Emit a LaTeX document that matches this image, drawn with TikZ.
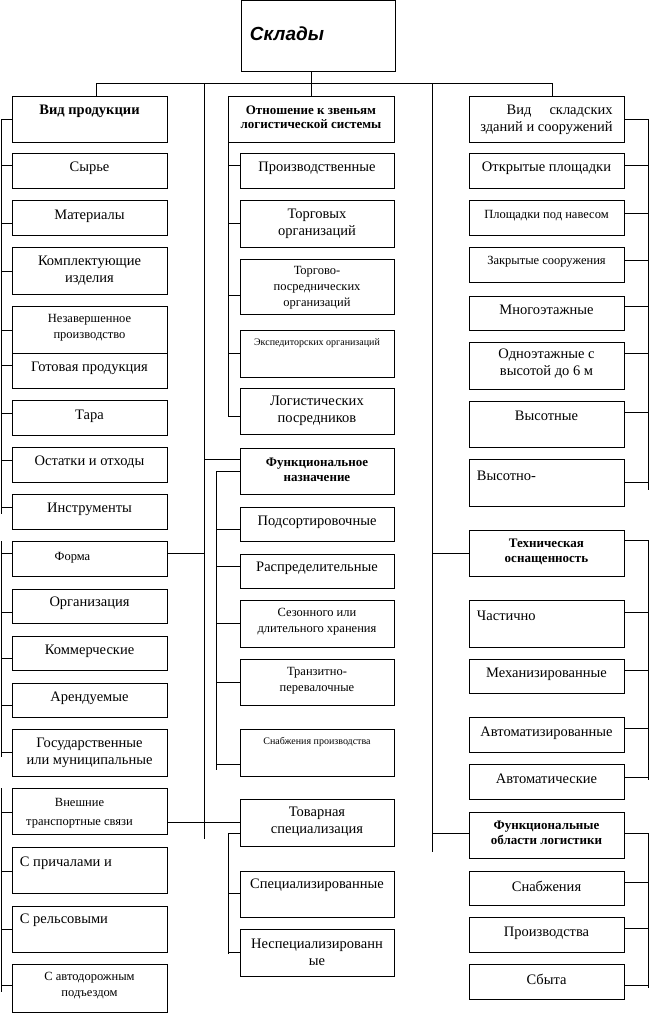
\documentclass[tikz,border=0pt]{standalone}
\usepackage{fontspec}
\setmainfont{Liberation Serif}
\setsansfont{Liberation Sans}

\begin{document}
\begin{tikzpicture}[x=1pt, y=-1pt, line width=0.9pt,
	box/.style = {draw, inner sep=0pt, outer sep=0pt},
	lbl/.style = {inner sep=0pt, align=center},
	nf/.style = {font=\fontsize{14.5}{17}\selectfont},
	sf/.style = {font=\fontsize{12.5}{16}\selectfont},
	tf/.style = {font=\fontsize{10}{12}\selectfont},
	hb/.style = {font=\bfseries\fontsize{13}{14.5}\selectfont},
	hl/.style = {font=\bfseries\fontsize{14.5}{16}\selectfont},
	hs/.style = {font=\bfseries\fontsize{13}{14}\selectfont},
	sk/.style = {font=\sffamily\bfseries\itshape\fontsize{19}{22}\selectfont, xshift=-31pt},
	lft/.style = {nf, anchor=west, xshift=-70pt},
	frmf/.style = {sf, xshift=-17pt},
	vnsf/.style = {font=\fontsize{12.5}{19}\selectfont, xshift=-10pt},
	vidf/.style = {nf, align=right, anchor=east, xshift=66.5pt}]
	\useasboundingbox (0,0) rectangle (649,1013);

	\foreach \nm/\xa/\xb/\ya/\yb/\ty/\f/\t in {
		skl/241/395/0.5/71/34/sk/Склады,
		vp/12/167/96/142/111/hl/Вид продукции,
		otn/228/394/96/142/117/hs/Отношение к звеньям\\логистической системы,
		vid/469/624/96/142/120/vidf/Вид\hspace{18pt}складских\\зданий и сооружений,
		fnz/240/394/448/494/470/hb/Функциональное\\назначение,
		teh/469/624/530/576/552/hb/Техническая\\оснащенность,
		tvs/240/394/799/846/822/nf/Товарная\\специализация,
		fol/469/624/812/858/833/hb/Функциональные\\области логистики} {
		\pgfmathsetmacro{\xc}{(\xa+\xb)/2}
		\pgfmathsetmacro{\yc}{(\ya+\yb)/2}
		\pgfmathsetmacro{\w}{\xb-\xa}
		\pgfmathsetmacro{\h}{\yb-\ya}
		\node[box, minimum width=\w pt, minimum height=\h pt] (\nm) at (\xc,\yc) {};
		\node[lbl, \f] (t\nm) at (\xc,\ty) {\t};
	}

	\coordinate (la) at (1,514);
	\coordinate (lb) at (1,757);
	\coordinate (lc) at (1,992);
	\coordinate (ma) at (228,416);
	\coordinate (mb) at (216,770);
	\coordinate (mc) at (228,954);
	\coordinate (ra) at (648,490);
	\coordinate (rb) at (648,780);
	\coordinate (rc) at (648,988);

	\def\xc{89.5} \def\w{155} \def\sd{west}
	\foreach \nm/\ya/\yb/\ty/\sy/\sp/\f/\t in {
		syr/153/188/168/165/la/nf/Сырье,
		mat/200/235/216/223/la/nf/Материалы,
		kom/247/294/271/271/la/nf/Комплектующие\\изделия,
		nez/306/353/328/330/la/sf/Незавершенное\\производство,
		got/353/388/368/365/la/nf/Готовая продукция,
		tar/400/435/416/413/la/nf/Тара,
		ost/447/482/462/460/la/nf/Остатки и отходы,
		ins/494/529/509/507/la/nf/Инструменты,
		frm/541/576/558/553/lb/frmf/Форма,
		org/589/623/603/612/lb/nf/Организация,
		kmr/636/670/651/658/lb/nf/Коммерческие,
		ard/683/717/698/705/lb/nf/Арендуемые,
		gos/729/776/753/752/lb/nf/Государственные\\или муниципальные,
		vns/788/834/813/812/lc/vnsf/Внешние\\транспортные связи,
		pri/847/893/863/871/lc/lft/С причалами и,
		rel/906/952/920/929/lc/lft/С рельсовыми,
		avt/964/1012/986/985/lc/sf/С автодорожным\\подъездом} {
		\pgfmathsetmacro{\yc}{(\ya+\yb)/2}
		\pgfmathsetmacro{\h}{\yb-\ya}
		\node[box, minimum width=\w pt, minimum height=\h pt] (\nm) at (\xc,\yc) {};
		\node[lbl, \f] (t\nm) at (\xc,\ty) {\t};
		\draw (\nm.\sd |- 0,\sy) -- (\sp |- 0,\sy);
	}

	\def\xc{317} \def\w{154} \def\sd{west}
	\foreach \nm/\ya/\yb/\ty/\sy/\sp/\f/\t in {
		prz/153/188/168/165/ma/nf/Производственные,
		trg/200/247/224/223/ma/nf/Торговых\\организаций,
		tpo/259/314/288/295/ma/sf/Торгово-\\посреднических\\организаций,
		eks/330/377/343/353/ma/tf/Экспедиторских организаций,
		lgp/388/434/411/416/ma/nf/Логистических\\посредников,
		pds/507/541/522/529/mb/nf/Подсортировочные,
		rsp/554/588/568/566/mb/nf/Распределительные,
		szn/600/647/622/623/mb/sf/Сезонного или\\длительного хранения,
		trn/659/705/681/682/mb/sf/Транзитно-\\перевалочные,
		snp/729/776/742/764/mb/tf/Снабжения производства,
		spc/871/917/885/893/mc/nf/Специализированные,
		nsp/929/976/952/952/mc/nf/Неспециализированн\\ые} {
		\pgfmathsetmacro{\yc}{(\ya+\yb)/2}
		\pgfmathsetmacro{\h}{\yb-\ya}
		\node[box, minimum width=\w pt, minimum height=\h pt] (\nm) at (\xc,\yc) {};
		\node[lbl, \f] (t\nm) at (\xc,\ty) {\t};
		\draw (\nm.\sd |- 0,\sy) -- (\sp |- 0,\sy);
	}

	\def\xc{546.5} \def\w{155} \def\sd{east}
	\foreach \nm/\ya/\yb/\ty/\sy/\sp/\f/\t in {
		otk/153/188/168/165/ra/nf/Открытые площадки,
		nav/200/235/216/213/ra/sf/Площадки под навесом,
		zak/247/282/262/260/ra/sf/Закрытые сооружения,
		mng/296/330/310/306/ra/nf/Многоэтажные,
		odn/342/389/364/353/ra/nf/Одноэтажные с\\высотой до 6 м,
		vys/401/447/416/412/ra/nf/Высотные,
		vsn/459/506/476/482/ra/lft/Высотно-,
		chs/600/647/616/612/rb/lft/Частично,
		mex/659/693/674/670/rb/nf/Механизированные,
		avz/717/752/733/728/rb/nf/Автоматизированные,
		avm/764/799/779/777/rb/nf/Автоматические,
		snb/871/905/886/882/rc/nf/Снабжения,
		prv/917/952/933/928/rc/nf/Производства,
		sbt/964/999/979/985/rc/nf/Сбыта} {
		\pgfmathsetmacro{\yc}{(\ya+\yb)/2}
		\pgfmathsetmacro{\h}{\yb-\ya}
		\node[box, minimum width=\w pt, minimum height=\h pt] (\nm) at (\xc,\yc) {};
		\node[lbl, \f] (t\nm) at (\xc,\ty) {\t};
		\draw (\nm.\sd |- 0,\sy) -- (\sp |- 0,\sy);
	}

	\draw (vp.west) -| (la);
	\draw (lb |- frm.north) -- (lb);
	\draw (lc |- vns.north) -- (lc);
	\draw (otn.south west) -- (ma);
	\draw (fnz.west) -| (mb);
	\draw ([yshift=-11pt]tvs.west) -| (mc);
	\draw (vid.east) -| (ra);
	\draw ([yshift=13pt]teh.east) -| (rb);
	\draw ([yshift=2pt]fol.east) -| (rc);

	\coordinate (bus) at (0,83);
	\coordinate (cl) at (204,839);
	\coordinate (cr) at (432,852);
	\draw (skl.south -| otn.north) -- (otn.north);
	\draw ([xshift=7pt]vp.north) |- ([xshift=6pt]vid.north |- bus) -- ([xshift=6pt]vid.north);
	\draw (cl |- bus) -- (cl);
	\draw (cr |- bus) -- (cr);
	\draw ([yshift=5pt]frm.east) -- ([yshift=5pt]frm.east -| cl);
	\draw ([yshift=12pt]fnz.west) -- ([yshift=12pt]fnz.west -| cl);
	\draw (vns.east |- tvs.west) -- (tvs.west);
	\draw (teh.west) -- (teh.west -| cr);
	\draw ([yshift=2pt]fol.west) -- ([yshift=2pt]fol.west -| cr);
\end{tikzpicture}
\end{document}
